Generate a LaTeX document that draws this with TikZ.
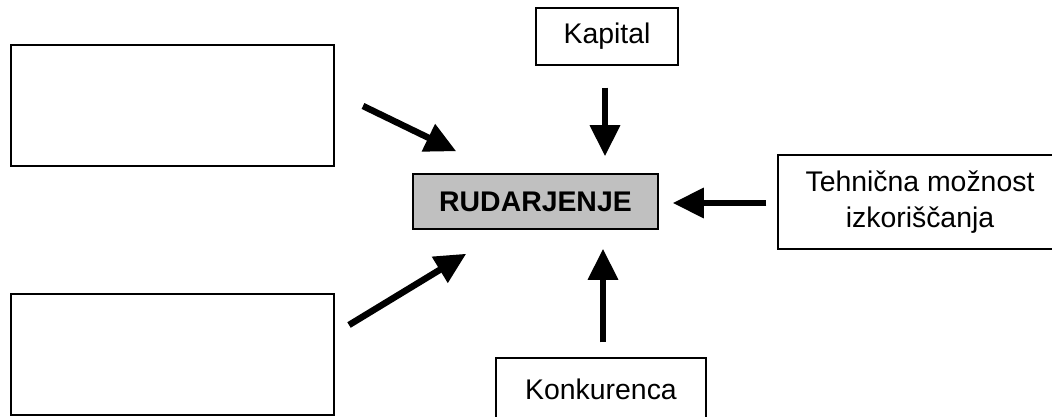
\documentclass[tikz,border=0pt]{standalone}
\usepackage{fontspec}
\setmainfont{Liberation Sans}
\usetikzlibrary{arrows.meta, positioning, calc}

\begin{document}
\begin{tikzpicture}[
    x=1pt, y=-1pt,
    font=\fontsize{28.4}{36}\selectfont,
    >={Triangle[length=31pt, width=29pt]},   % big filled heads
    box/.style={
        draw,
        line width=1.5pt,
        inner sep=0pt,
        align=center
    },
    flow/.style={->, line width=6.5pt}
]

%--- Colours ---
\definecolor{colorMain}{RGB}{192,192,192}   % Gray centre block

\useasboundingbox (0,0) rectangle (1052,417);

%------------------------------------
% LEFT COLUMN: EMPTY BOXES
%------------------------------------
\node[box, line width=2pt, minimum width=323pt, minimum height=120pt] (left_top) at (172.5,105.5) {};
\node[box, line width=2pt, minimum width=323pt, minimum height=121pt] (left_bottom) at (172.5,354.5) {};

%------------------------------------
% CENTRE: MAIN BLOCK AND FACTORS
%------------------------------------
\node[box, fill=colorMain, minimum width=245pt, minimum height=55pt, font=\fontsize{28.4}{36}\selectfont\bfseries] (mining) at (535.5,201.5) {RUDARJENJE};

\node[box, minimum width=142pt, minimum height=57pt] (capital) at (607,36.5) {Kapital};

\node[box, minimum width=210pt, minimum height=62pt] (competition) at (601,389) {Konkurenca};

%------------------------------------
% RIGHT: TECHNICAL FACTOR
%------------------------------------
\node[box, minimum width=284pt, minimum height=94pt] (technical) at (920,202) {Tehnična možnost\\izkoriščanja};

%------------------
% ARROWS
%------------------
\draw[flow] ($(left_top.east)+(28,0.5)$) -- ($(mining.north west)+(44,-22)$);
\draw[flow] ($(capital.south)+(-2,22)$) -- ($(capital.south |- mining.north)+(-2,-17)$);
\draw[flow] ($(technical.west)+(-11,1)$) -- ($(mining.east)+(14,1.5)$);
\draw[flow] ($(competition.north)+(2,-15)$) -- ($(competition.north |- mining.south)+(2,19)$);
\draw[flow] ($(left_bottom.east)+(14,-29.5)$) -- ($(mining.south west)+(54,24)$);

\end{tikzpicture}
\end{document}
